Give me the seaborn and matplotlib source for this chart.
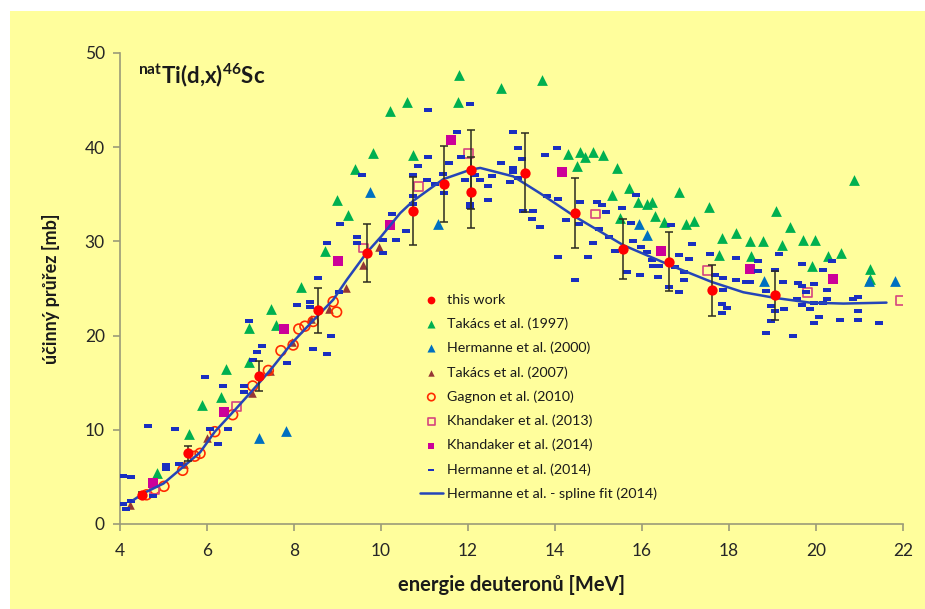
import matplotlib
matplotlib.use("Agg")
import matplotlib.pyplot as plt
from matplotlib.patches import Rectangle
from matplotlib.path import Path
from matplotlib.markers import MarkerStyle
import numpy as np
import pandas as pd
import seaborn as sns

# ---- data: deuteron energy [MeV] and cross section [mb] ----
this_work_x = [4.51, 5.56, 7.20, 8.56, 9.67, 10.74, 11.45, 12.08, 12.08, 13.30,
               14.47, 15.57, 16.63, 17.60, 19.06]
this_work_y = [3.1, 7.5, 15.7, 22.7, 28.8, 33.2, 36.1, 37.6, 35.2, 37.3,
               33.0, 29.2, 27.85, 24.8, 24.3]
this_work_err = [0.3, 0.8, 1.6, 2.4, 3.1, 3.6, 4.0, 4.2, 3.8, 4.2,
                 3.7, 3.2, 3.1, 2.7, 2.6]

takacs1997_x = [4.84, 5.59, 5.89, 6.32, 6.44, 6.97, 6.97, 7.46, 7.59, 8.15,
                8.71, 8.98, 9.25, 9.40, 9.81, 10.21, 10.59, 10.74, 11.78, 11.80,
                12.77, 13.69, 14.29, 14.50, 14.57, 14.69, 14.88, 15.11, 15.42, 15.30,
                15.49, 15.71, 15.90, 16.11, 16.22, 16.29, 16.51, 16.84, 17.01, 17.20,
                17.53, 17.78, 17.83, 18.16, 18.48, 18.50, 18.79, 19.09, 19.22, 19.40,
                19.69, 19.90, 19.98, 20.28, 20.57, 20.87, 21.24, 21.24]
takacs1997_y = [5.4, 9.55, 12.6, 13.5, 16.5, 17.2, 20.8, 22.8, 21.1, 25.2,
                29.0, 34.4, 32.8, 37.7, 39.4, 43.8, 44.8, 39.2, 44.8, 47.7,
                46.3, 47.1, 39.3, 38.0, 39.5, 39.0, 39.5, 39.2, 37.8, 34.9,
                32.5, 35.7, 34.2, 34.0, 34.2, 32.7, 32.1, 35.2, 31.8, 32.2,
                33.7, 28.6, 30.4, 30.9, 30.0, 28.4, 30.0, 33.2, 29.6, 31.5,
                30.1, 27.4, 30.1, 28.4, 28.8, 36.5, 27.1, 26.0]

hermanne2000_x = [7.20, 7.81, 9.75, 11.30, 15.92, 16.11, 18.81, 21.22, 21.82]
hermanne2000_y = [9.1, 9.9, 35.2, 31.8, 31.8, 30.7, 25.8, 25.8, 25.8]

takacs2007_x = [4.23, 5.46, 5.99, 7.03, 7.45, 7.95, 8.38, 8.80, 9.19, 9.59, 9.95]
takacs2007_y = [2.0, 6.4, 9.1, 13.9, 16.2, 19.35, 21.8, 22.8, 25.0, 27.5, 29.4]

gagnon2010_x = [4.61, 4.80, 5.01, 5.44, 5.72, 5.84, 6.18, 6.59, 7.05, 7.41,
                7.70, 7.98, 8.11, 8.25, 8.44, 8.90, 8.98]
gagnon2010_y = [3.1, 3.7, 4.0, 5.7, 7.2, 7.5, 9.8, 11.6, 14.65, 16.3,
                18.4, 19.0, 20.7, 21.0, 21.5, 23.6, 22.5]

khandaker2013_x = [4.80, 6.67, 9.59, 10.86, 12.01, 14.94, 17.51, 19.81, 21.93]
khandaker2013_y = [3.6, 12.5, 29.3, 35.8, 39.3, 32.9, 26.9, 24.6, 23.7]

khandaker2014_x = [4.77, 6.39, 7.76, 9.01, 10.21, 11.61, 14.17, 16.44, 18.48, 20.38]
khandaker2014_y = [4.3, 11.9, 20.7, 27.95, 31.7, 40.8, 37.4, 29.0, 27.1, 26.0]

hermanne2014_x = [4.06, 4.25, 4.06, 4.14, 4.25, 4.65, 4.77, 5.06, 5.06, 5.36,
                  5.26, 5.95, 6.36, 6.26, 6.07, 6.48, 6.85, 6.85, 6.97, 7.06,
                  7.16, 7.26, 7.85, 8.06, 8.37, 8.37, 8.44, 8.77, 8.85, 9.04,
                  8.55, 8.75, 9.06, 9.44, 9.44, 9.56, 10.05, 10.05, 10.34, 10.25,
                  10.57, 10.74, 10.74, 10.74, 10.86, 11.05, 11.07, 11.07, 11.24, 11.43,
                  11.45, 11.57, 11.75, 11.85, 11.93, 12.05, 12.05, 12.05, 12.15, 12.28,
                  12.45, 12.47, 12.55, 12.77, 12.97, 13.04, 13.04, 13.04, 13.14, 13.16,
                  13.25, 13.26, 13.46, 13.50, 13.66, 13.76, 13.81, 14.05, 14.06, 14.08,
                  14.25, 14.46, 14.56, 14.57, 14.77, 14.88, 14.96, 15.02, 15.07, 15.17,
                  15.23, 15.38, 15.55, 15.65, 15.74, 15.80, 15.87, 15.95, 15.98, 16.11,
                  16.24, 16.26, 16.37, 16.40, 16.63, 16.67, 16.76, 16.86, 16.86, 16.97,
                  16.97, 17.07, 17.16, 17.56, 17.68, 17.84, 17.85, 17.87, 17.87, 17.95,
                  18.17, 18.17, 18.39, 18.48, 18.66, 18.66, 18.86, 18.86, 18.97, 18.97,
                  19.06, 19.06, 19.16, 19.25, 19.26, 19.46, 19.57, 19.58, 19.67, 19.67,
                  19.67, 19.77, 19.86, 19.95, 19.95, 19.96, 20.08, 20.17, 20.17, 20.26,
                  20.26, 20.36, 20.55, 20.86, 20.97, 20.97, 20.97, 21.45]
hermanne2014_y = [5.1, 5.0, 2.1, 1.6, 2.4, 10.4, 3.0, 6.3, 5.8, 6.4,
                  10.05, 15.6, 14.65, 8.5, 10.05, 10.1, 14.65, 14.05, 21.5, 17.4,
                  18.3, 18.9, 17.1, 23.2, 23.6, 23.0, 18.55, 18.0, 20.0, 24.6,
                  26.1, 29.8, 31.8, 30.5, 29.8, 37.0, 30.2, 28.8, 30.1, 32.9,
                  31.1, 34.8, 34.0, 37.0, 38.0, 36.5, 39.0, 43.9, 36.1, 37.2,
                  35.1, 38.3, 41.6, 39.0, 36.5, 44.6, 34.0, 33.7, 37.0, 36.5,
                  34.4, 35.9, 36.9, 38.3, 36.3, 41.6, 37.8, 37.4, 36.7, 39.9,
                  38.7, 33.2, 32.4, 33.2, 31.5, 39.2, 34.8, 39.9, 28.3, 34.5,
                  32.3, 25.9, 31.9, 34.2, 28.3, 29.8, 34.2, 31.3, 33.9, 33.1,
                  30.5, 29.0, 33.5, 26.8, 32.0, 30.0, 34.9, 26.4, 29.4, 28.9,
                  28.0, 27.4, 26.2, 27.4, 25.2, 31.7, 27.3, 28.6, 24.6, 26.8,
                  25.9, 28.1, 29.7, 28.7, 26.4, 23.4, 22.4, 26.1, 24.8, 22.9,
                  28.2, 25.9, 25.7, 25.7, 27.9, 26.9, 24.7, 20.3, 23.1, 21.5,
                  27.0, 22.6, 28.7, 25.7, 22.8, 20.0, 23.9, 25.6, 27.6, 25.3,
                  23.2, 24.6, 22.8, 23.5, 21.3, 25.5, 22.0, 27.0, 23.5, 24.8,
                  23.9, 27.9, 21.7, 23.9, 24.1, 22.6, 21.7, 21.3]

spline_x = [4.31, 4.54, 5.00, 5.46, 5.84, 6.18, 6.64, 7.03, 7.45, 7.95,
            8.44, 8.90, 9.21, 9.67, 10.00, 10.44, 10.74, 11.43, 12.05, 12.28,
            13.04, 13.66, 14.47, 15.57, 16.63, 17.60, 18.33, 19.06, 19.86, 20.63,
            21.62]
spline_y = [2.55, 3.26, 4.3, 6.1, 7.6, 9.8, 12.1, 14.1, 16.3, 19.2,
            21.6, 23.8, 25.9, 28.8, 30.5, 33.0, 34.3, 36.6, 37.6, 37.8,
            36.9, 35.1, 32.6, 29.6, 27.5, 25.7, 24.6, 24.0, 23.5, 23.4,
            23.5]

x_ticks = [4, 6, 8, 10, 12, 14, 16, 18, 20, 22]
y_ticks = [0, 10, 20, 30, 40, 50]

# ---- style ----
sns.set_theme(style="ticks")
plt.rcParams["font.family"] = ["Lato", "DejaVu Sans"]
plt.rcParams["mathtext.fontset"] = "custom"
plt.rcParams["mathtext.rm"] = "Lato"
plt.rcParams["mathtext.bf"] = "Lato:bold"

BG = "#FFFE9C"
AXIS = "#9B9B78"
TXT = "#262626"

fig = plt.figure(figsize=(9.25, 6.09), dpi=100, facecolor="white")
fig.patches.append(Rectangle((10 / 925, 0), 1 - 10 / 925, 1 - 11 / 609,
                             transform=fig.transFigure, facecolor=BG,
                             edgecolor="none", zorder=-10))
ax = fig.add_axes([120 / 925, 1 - 524 / 609, 783 / 925, 471 / 609])
ax.set_facecolor("none")

dash = MarkerStyle(Path([(-1, -0.4), (1, -0.4), (1, 0.4), (-1, 0.4), (-1, -0.4)],
                        [Path.MOVETO, Path.LINETO, Path.LINETO, Path.LINETO, Path.CLOSEPOLY]))

def frame(x, y):
    return pd.DataFrame({"E": x, "sigma": y})

sns.scatterplot(data=frame(this_work_x, this_work_y), x="E", y="sigma", ax=ax,
                marker="o", s=55, color="#FF0000", edgecolor="#FF0000", linewidth=0,
                label="this work", zorder=6)
sns.scatterplot(data=frame(takacs1997_x, takacs1997_y), x="E", y="sigma", ax=ax,
                marker="^", s=60, color="#00B050", edgecolor="#00B050", linewidth=0,
                label="Takács et al. (1997)", zorder=2)
sns.scatterplot(data=frame(hermanne2000_x, hermanne2000_y), x="E", y="sigma", ax=ax,
                marker="^", s=60, color="#0070C0", edgecolor="#0070C0", linewidth=0,
                label="Hermanne et al. (2000)", zorder=2)
sns.scatterplot(data=frame(takacs2007_x, takacs2007_y), x="E", y="sigma", ax=ax,
                marker="^", s=38, color="#953735", edgecolor="#953735", linewidth=0,
                label="Takács et al. (2007)", zorder=3)
sns.scatterplot(data=frame(gagnon2010_x, gagnon2010_y), x="E", y="sigma", ax=ax,
                marker="o", s=50, facecolor="none", edgecolor="#FF2A00", linewidth=1.2,
                label="Gagnon et al. (2010)", zorder=3)
sns.scatterplot(data=frame(khandaker2013_x, khandaker2013_y), x="E", y="sigma", ax=ax,
                marker="s", s=40, facecolor="none", edgecolor="#D6457F", linewidth=1.2,
                label="Khandaker et al. (2013)", zorder=3)
sns.scatterplot(data=frame(khandaker2014_x, khandaker2014_y), x="E", y="sigma", ax=ax,
                marker="s", s=45, color="#CC0099", edgecolor="#CC0099", linewidth=0,
                label="Khandaker et al. (2014)", zorder=3)
sns.scatterplot(data=frame(hermanne2014_x, hermanne2014_y), x="E", y="sigma", ax=ax,
                marker=dash, s=34, color="#1A2FC0", edgecolor="#1A2FC0", linewidth=0,
                label="Hermanne et al. (2014)", zorder=4)
sns.lineplot(data=frame(spline_x, spline_y), x="E", y="sigma", ax=ax,
             color="#2545B8", linewidth=1.8, sort=False,
             label="Hermanne et al. - spline fit (2014)", zorder=5)

ax.errorbar(this_work_x, this_work_y, yerr=this_work_err, fmt="none",
            ecolor="#2B2B20", elinewidth=1.1, capsize=2.6, capthick=1.1, zorder=5)

# ---- axes ----
ax.set_xlim(4, 22)
ax.set_ylim(0, 50)
ax.set_xticks(x_ticks)
ax.set_yticks(y_ticks)
ax.set_xticklabels([str(t) for t in x_ticks])
ax.set_yticklabels([str(t) for t in y_ticks])
for side in ("top", "right"):
    ax.spines[side].set_visible(False)
for side in ("left", "bottom"):
    ax.spines[side].set_color(AXIS)
    ax.spines[side].set_linewidth(1.2)
ax.tick_params(axis="both", colors=AXIS, labelcolor=TXT, labelsize=12.5,
               length=5, width=1.2, direction="out")
ax.tick_params(axis="x", pad=9)
ax.tick_params(axis="y", pad=6)

ax.set_xlabel("energie deuteronů [MeV]", fontsize=14.5, fontweight="bold",
              color="#1a1a1a", labelpad=11)
ax.set_ylabel("účinný průřez [mb]", fontsize=13, fontweight="bold",
              color="#1a1a1a", labelpad=18)

ax.text(0.023, 0.935,
        r"$^{\mathbf{nat}}\mathbf{Ti(d{,}x)}^{\mathbf{46}}\mathbf{Sc}$",
        transform=ax.transAxes, fontsize=16, color="#1a1a1a",
        ha="left", va="baseline")

handles, labels = ax.get_legend_handles_labels()
order = ["this work", "Takács et al. (1997)", "Hermanne et al. (2000)",
         "Takács et al. (2007)", "Gagnon et al. (2010)", "Khandaker et al. (2013)",
         "Khandaker et al. (2014)", "Hermanne et al. (2014)",
         "Hermanne et al. - spline fit (2014)"]
lut = dict(zip(labels, handles))
leg = ax.legend([lut[k] for k in order], order, loc="upper left",
                bbox_to_anchor=(0.383, 0.489), frameon=False, fontsize=10.3,
                labelspacing=0.82, handlelength=1.6, handletextpad=0.3,
                borderpad=0, borderaxespad=0, markerscale=0.75)
for t in leg.get_texts():
    t.set_color("#1a1a1a")

fig.savefig("out.png", dpi=100, facecolor=fig.get_facecolor())
